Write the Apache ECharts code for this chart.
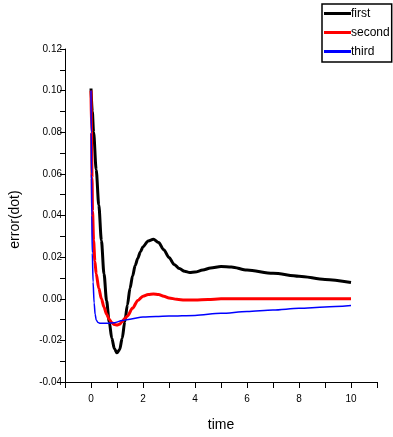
<!DOCTYPE html>
<html>
<head>
<meta charset="utf-8">
<script src="https://cdn.jsdelivr.net/npm/echarts@6/dist/echarts.min.js"></script>
<style>
  html, body { margin: 0; padding: 0; background: #fff; }
  #main { width: 393px; height: 437px; }
</style>
</head>
<body>
<div id="main"></div>
<script>
// values
let firstT = [0, 0.05, 0.1, 0.2, 0.3, 0.4, 0.5, 0.6, 0.7, 0.8, 0.9, 1.0, 1.1, 1.2, 1.3, 1.4, 1.5, 1.6, 1.7, 1.8, 1.9, 2.0, 2.2, 2.4, 2.6, 2.8, 3.0, 3.2, 3.4, 3.6, 3.8, 4.0, 4.3, 4.6, 5.0, 5.4, 6.0, 7.0, 8.0, 9.0, 10];
let firstV = [0.101, 0.09, 0.08, 0.062, 0.045, 0.028, 0.012, -0.001, -0.011, -0.019, -0.024, -0.026, -0.0245, -0.019, -0.011, -0.003, 0.005, 0.011, 0.016, 0.0195, 0.0225, 0.025, 0.0278, 0.0286, 0.027, 0.0235, 0.0198, 0.0165, 0.0145, 0.0132, 0.0126, 0.0128, 0.0138, 0.0148, 0.0155, 0.0153, 0.0138, 0.0122, 0.0108, 0.0093, 0.0078];

let secondT = [0, 0.02, 0.04, 0.06, 0.1, 0.15, 0.2, 0.3, 0.4, 0.5, 0.6, 0.7, 0.8, 0.9, 1.0, 1.1, 1.2, 1.3, 1.4, 1.6, 1.8, 2.0, 2.2, 2.4, 2.6, 2.8, 3.0, 3.3, 3.6, 4.0, 4.5, 5, 10];
let secondV = [0.1, 0.08, 0.058, 0.042, 0.028, 0.018, 0.012, 0.005, 0.0, -0.004, -0.0075, -0.0098, -0.0115, -0.0124, -0.0126, -0.0122, -0.011, -0.0095, -0.0083, -0.0045, -0.0008, 0.0012, 0.002, 0.0023, 0.002, 0.0012, 0.0004, -0.0003, -0.0006, -0.0006, -0.0004, 0, 0];

let thirdT = [0, 0.01, 0.02, 0.03, 0.05, 0.08, 0.12, 0.16, 0.2, 0.27, 0.35, 0.6, 0.9, 1.2, 1.5, 2.0, 2.5, 3, 4, 5, 6, 7, 8, 9, 10];
let thirdV = [0.1, 0.08, 0.06, 0.04, 0.022, 0.008, -0.002, -0.0075, -0.0102, -0.0114, -0.0118, -0.0118, -0.0115, -0.0105, -0.0098, -0.0088, -0.0085, -0.0083, -0.008, -0.007, -0.0061, -0.0054, -0.0046, -0.004, -0.0033];

let names = ["first", "second", "third"];
let colors = ["#000000", "#ff0000", "#0000ff"];
let widths = [3, 3, 1.5];

let xTickLabels = [0, 2, 4, 6, 8, 10];

let myChart = echarts.init(document.getElementById("main"), null, { renderer: "canvas" });

let pairs = (t, v) => t.map((x, i) => [x, v[i]]);
let allData = [pairs(firstT, firstV), pairs(secondT, secondV), pairs(thirdT, thirdV)];

let option = {
  animation: false,
  textStyle: { fontFamily: "Liberation Sans, Arial, sans-serif" },
  grid: { left: 65, right: 16, top: 49, bottom: 51 },
  legend: {
    orient: "vertical",
    left: 322,
    top: 4,
    padding: [0, 2, 1, 2],
    itemGap: 0,
    itemWidth: 27,
    itemHeight: 3,
    borderColor: "#000",
    borderWidth: 1.5,
    data: names.map((n, i) => ({
      name: n,
      icon: "rect",
      itemStyle: { color: colors[i] },
    })),
    textStyle: {
      fontSize: 12,
      color: "#000",
      lineHeight: 19,
      padding: [0, 0, 0, -5],
    },
  },
  xAxis: {
    type: "value",
    min: -1,
    max: 11,
    interval: 1,
    name: "time",
    nameLocation: "middle",
    nameGap: 36,
    nameTextStyle: { fontSize: 14, color: "#000" },
    axisLine: { onZero: false, lineStyle: { color: "#000", width: 1 } },
    axisTick: { length: 6, lineStyle: { color: "#000" } },
    axisLabel: {
      fontSize: 10,
      color: "#000",
      margin: 12,
      formatter: (v) => (xTickLabels.indexOf(v) >= 0 ? String(v) : ""),
    },
    splitLine: { show: false },
  },
  yAxis: {
    type: "value",
    min: -0.04,
    max: 0.12,
    interval: 0.02,
    name: "error(dot)",
    nameLocation: "middle",
    nameGap: 43,
    nameTextStyle: { fontSize: 14, color: "#000", padding: [0, 0, 0, -8] },
    axisLine: { show: true, onZero: false, lineStyle: { color: "#000", width: 1 } },
    axisTick: { show: true, length: 5, lineStyle: { color: "#000" } },
    minorTick: { show: true, splitNumber: 2, length: 5, lineStyle: { color: "#000" } },
    axisLabel: {
      fontSize: 10,
      color: "#000",
      margin: 3,
      formatter: (v) => v.toFixed(2),
    },
    splitLine: { show: false },
  },
  series: names.map((n, i) => ({
    name: n,
    type: "line",
    data: allData[i],
    showSymbol: false,
    smooth: 0.3,
    smoothMonotone: "x",
    lineStyle: { color: colors[i], width: widths[i] },
    itemStyle: { color: colors[i] },
  })),
};

myChart.setOption(option);
</script>
</body>
</html>
